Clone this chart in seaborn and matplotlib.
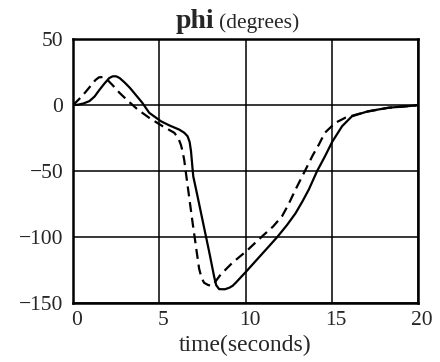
import numpy as np
import pandas as pd
import seaborn as sns
import matplotlib
matplotlib.use("Agg")
import matplotlib.pyplot as plt
import matplotlib.transforms as mtransforms

# solid curve
t_solid = [0, 0.3, 0.6, 0.95, 1.25, 1.5, 1.8, 2.1, 2.3, 2.5, 2.7, 3.0, 3.3, 3.65, 4.0,
           4.42, 5.1, 5.6, 6.16, 6.45, 6.64, 6.76, 6.84, 6.9, 6.97, 7.2, 7.6, 7.89,
           8.18, 8.3, 8.47, 8.8, 9.05, 9.25, 9.43, 10.05, 10.6, 11.36, 11.84, 12.4,
           12.9, 13.3, 13.67, 14.15, 14.6, 15.02, 15.6, 16.17, 17.1, 18.3, 19.8, 20.0]
phi_solid = [0, 0.3, 1.2, 3, 6.5, 11, 16, 20.5, 21.8, 21.8, 20.5, 17, 13, 7.5, 2,
             -5.9, -12.3, -15.5, -18.6, -21, -23.6, -28, -35, -44, -54, -68, -93, -111,
             -130, -136.5, -139.5, -139.6, -138.5, -137, -134.7, -126, -118, -107, -100, -91,
             -82, -73, -64, -50, -39, -28, -16, -8.5, -4.7, -2, -0.4, 0]

# dashed curve
t_dash = [0, 0.35, 0.7, 1.05, 1.3, 1.5, 1.75, 2.0, 2.3, 2.7, 3.2, 3.75, 4.42, 5.19,
          5.87, 6.1, 6.25, 6.35, 6.45, 6.54, 6.93, 7.2, 7.31, 7.45, 7.6, 7.85, 8.08,
          8.3, 8.56, 9.24, 10.05, 10.97, 11.6, 12.13, 12.5, 12.9, 13.48, 13.9, 14.25,
          14.6, 15.2, 15.8, 16.56, 17.1, 18.3, 19.8, 20.0]
phi_dash = [0, 4.5, 9.5, 15, 19, 21, 21.3, 19, 15, 9.2, 3, -3.4, -9.7, -16,
            -21, -25, -30, -35, -42, -51, -89, -114, -124, -131, -134.7, -136.5, -136.7,
            -133, -128.4, -119.5, -110.7, -99.4, -92, -84, -75, -64, -49, -38, -30,
            -21, -13.5, -9.5, -6.7, -4.9, -2, -0.4, 0]

x_ticks = [0, 5, 10, 15, 20]
y_ticks = [-150, -100, -50, 0, 50]
y_labels = ['\u2212150', '\u2212100', '\u221250', '0', '50']

sns.set_style("white")
plt.rcParams['font.family'] = ['Liberation Serif', 'DejaVu Serif']

fig = plt.figure(figsize=(4.4, 3.62), dpi=100)
ax = fig.add_axes([0.166, 0.163, 0.784, 0.729])

sns.lineplot(x=t_solid, y=phi_solid, ax=ax, color='black', lw=1.6)
sns.lineplot(x=t_dash, y=phi_dash, ax=ax, color='black', lw=1.6)
ax.lines[-1].set_dashes((4.5, 2.6))

ax.set_xlim(0, 20)
ax.set_ylim(-150, 50)
ax.set_xticks(x_ticks)
ax.set_yticks(y_ticks)
ax.set_yticklabels(y_labels)
ax.tick_params(length=0, labelsize=15.5)
ax.tick_params(axis='x', pad=6)
ax.tick_params(axis='y', pad=7)
ax.grid(True, color='black', lw=1.1)
for s in ax.spines.values():
    s.set_color('black')
    s.set_linewidth(1.8)

# scanned labels sit a bit right of the grid lines
shift = mtransforms.ScaledTranslation(4 / 100, 0, fig.dpi_scale_trans)
for lab in ax.get_xticklabels():
    lab.set_transform(lab.get_transform() + shift)

ax.set_xlabel('time(seconds)', fontsize=17, labelpad=3)
ax.text(0.41, 1.042, 'phi', transform=ax.transAxes, ha='right', va='baseline',
        fontsize=20, fontweight='bold')
ax.text(0.423, 1.042, '(degrees)', transform=ax.transAxes, ha='left', va='baseline',
        fontsize=15.5)

fig.savefig('out.png', dpi=100)
